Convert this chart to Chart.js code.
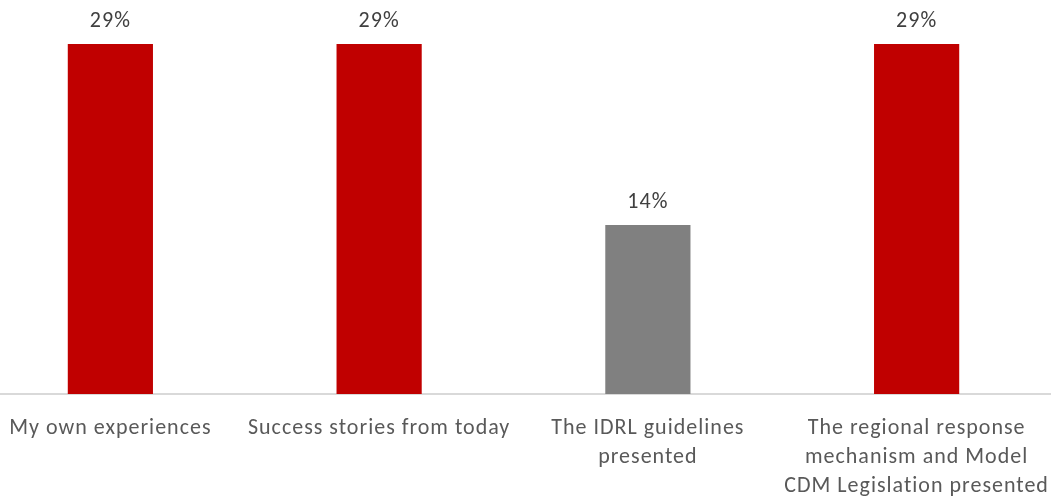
<!DOCTYPE html>
<html>
<head>
<meta charset="utf-8">
<script src="https://cdn.jsdelivr.net/npm/chart.js@4.4.1/dist/chart.umd.min.js"></script>
<style>
  html, body { margin: 0; padding: 0; background: #ffffff; overflow: hidden; }
  #wrap { position: absolute; left: -24px; top: 0; width: 1075px; height: 499px; }
</style>
</head>
<body>
<div id="wrap"><canvas id="chart"></canvas></div>
<script>
// Survey answers: which source was most useful
const categories = [
  'My own experiences',
  'Success stories from today',
  ['The IDRL guidelines', 'presented'],
  ['The regional response', 'mechanism and Model', 'CDM Legislation presented']
];
const shares = [29, 29, 14, 29];
const barColors = ['#C00000', '#C00000', '#808080', '#C00000'];

const FONT = "Carlito, Lato, 'Liberation Sans', sans-serif";

// Slightly open letter spacing for all text on the canvas
const spacing = {
  id: 'spacing',
  beforeDraw(chart) { chart.ctx.letterSpacing = '1px'; }
};

// Percentage labels above each bar
const valueLabels = {
  id: 'valueLabels',
  afterDatasetsDraw(chart) {
    const ctx = chart.ctx;
    const meta = chart.getDatasetMeta(0);
    ctx.save();
    ctx.font = '22px ' + FONT;
    ctx.fillStyle = '#404040';
    ctx.textAlign = 'center';
    ctx.textBaseline = 'alphabetic';
    meta.data.forEach((bar, i) => {
      ctx.fillText(shares[i] + '%', bar.x, bar.y - 17);
    });
    ctx.restore();
  }
};

new Chart(document.getElementById('chart'), {
  type: 'bar',
  data: {
    labels: categories,
    datasets: [{
      data: shares,
      backgroundColor: barColors,
      borderWidth: 0,
      categoryPercentage: 1,
      barPercentage: 0.317
    }]
  },
  options: {
    responsive: true,
    maintainAspectRatio: false,
    animation: false,
    layout: { padding: { top: 44, left: 0, right: 0, bottom: 0 } },
    plugins: { legend: { display: false }, tooltip: { enabled: false } },
    scales: {
      y: { display: false, min: 0, max: 29 },
      x: {
        grid: { display: false },
        border: { display: true, color: '#d9d9d9', width: 2 },
        ticks: {
          color: '#595959',
          font: { family: FONT, size: 22, lineHeight: 1.32 },
          padding: 12,
          maxRotation: 0,
          autoSkip: false
        },
        afterFit(scale) { scale.height = 105; }
      }
    }
  },
  plugins: [spacing, valueLabels]
});
</script>
</body>
</html>
